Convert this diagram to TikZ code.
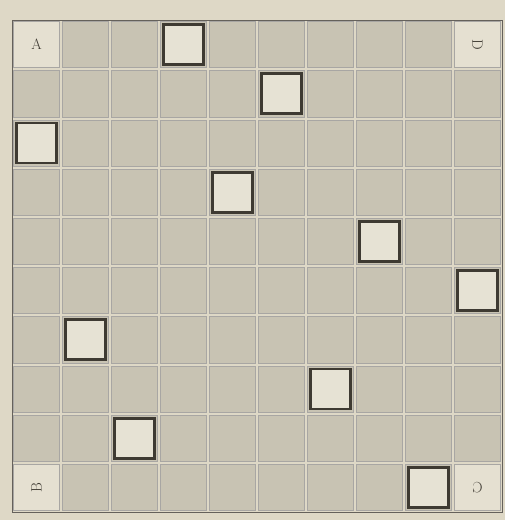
\documentclass[tikz,border=0pt]{standalone}
\usepackage{tikz}

\definecolor{paper}{RGB}{222,216,198}
\definecolor{shade}{RGB}{200,195,179}
\definecolor{ink}{RGB}{62,58,50}

\begin{document}
\begin{tikzpicture}[x=1pt, y=-1pt,
  cell/.style={fill=shade, draw=ink!45, line width=0.7pt},
  corner/.style={fill=paper!80!white, draw=ink!45, line width=0.7pt},
  piece/.style={draw=ink, line width=2.8pt, fill=paper!75!white,
    minimum width=40pt, minimum height=40pt, inner sep=0pt},
  letter/.style={font=\fontsize{15}{15}\selectfont, text=ink}
]
  % paper and page size
  \fill[paper] (0,0) rectangle (505,520);
  \useasboundingbox (0,0) rectangle (505,520);

  % ======= board 10 x 10 =======
  \foreach \r in {0,...,9}
    \foreach \c in {0,...,9}
      \draw[cell] ({13.5+49*\c},{21.5+49.2*\r}) rectangle ({59.5+49*\c},{67.7+49.2*\r});

  % lighter corner squares
  \draw[corner] (13.5,21.5) rectangle (59.5,67.7);
  \draw[corner] (454.5,21.5) rectangle (500.5,67.7);
  \draw[corner] (13.5,464.3) rectangle (59.5,510.5);
  \draw[corner] (454.5,464.3) rectangle (500.5,510.5);

  % outer frame
  \draw[ink!80, line width=1pt] (12,20) rectangle (502,512);

  % pieces: one per row, column given in the list
  \foreach \c [count=\r from 0] in {3,5,0,4,7,9,1,6,2,8}
    \node[piece] (q\r) at ({36.5+49*\c},{44.6+49.2*\r}) {};

  % corner letters
  \node[letter] (lA) at (36.5,44.6) {A};
  \node[letter, rotate=-90] (lD) at (477.5,44.6) {D};
  \node[letter, rotate=90] (lB) at (36.5,487.4) {B};
  \node[letter, rotate=180] (lC) at (477.5,487.4) {C};
\end{tikzpicture}
\end{document}
